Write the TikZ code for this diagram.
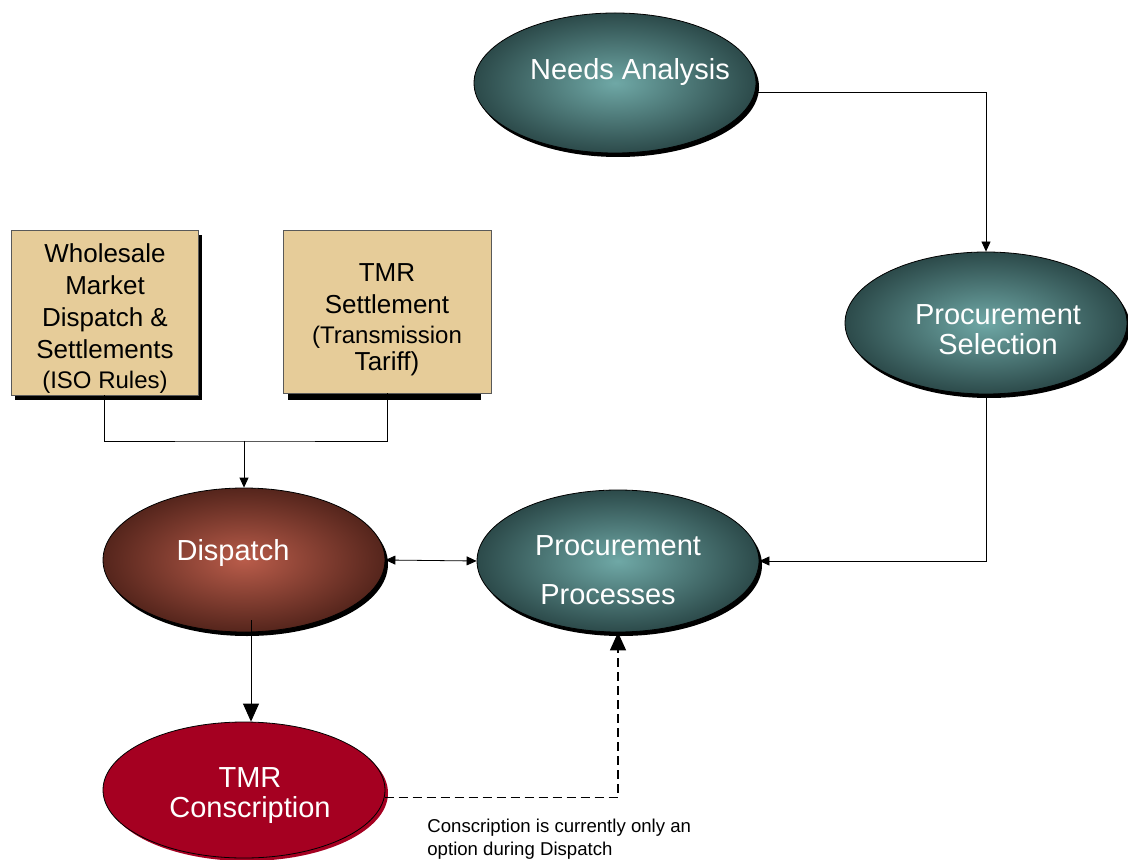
\documentclass[tikz,border=0pt]{standalone}
\usepackage{fontspec}
\setmainfont{Liberation Sans}
\usetikzlibrary{arrows.meta,shadows,shapes.geometric}

\definecolor{tealout}{HTML}{2C4A4A}
\definecolor{tealin}{HTML}{6FA8A6}
\definecolor{brownout}{HTML}{55251C}
\definecolor{brownin}{HTML}{B95C4A}
\definecolor{conscred}{HTML}{A50021}
\definecolor{boxtan}{HTML}{E6CC99}

\begin{document}
\begin{tikzpicture}[x=0.5pt,y=-0.5pt,
  ellbase/.style={ellipse,draw=black,minimum width=141pt,minimum height=70pt,inner sep=0pt},
  tealell/.style={ellbase,inner color=tealin,outer color=tealout,
    drop shadow={shadow xshift=1.5pt,shadow yshift=-2pt,fill=black,opacity=1}},
  brownell/.style={ellbase,minimum height=72pt,inner color=brownin,outer color=brownout,
    drop shadow={shadow xshift=1.5pt,shadow yshift=-2pt,fill=black,opacity=1}},
  redell/.style={ellbase,minimum height=68pt,fill=conscred,
    drop shadow={shadow xshift=1.5pt,shadow yshift=-1.5pt,fill=conscred,opacity=1}},
  elltext/.style={text=white,font=\fontsize{14.5}{15}\selectfont,align=center},
  boxnode/.style={draw=gray!70!black,fill=boxtan,inner sep=0pt},
  boxtext/.style={align=center,inner sep=0pt,font=\fontsize{13}{16}\selectfont},
  arr/.style={-{Triangle[length=5pt,width=4.5pt]}},
  dblarr/.style={{Triangle[length=5pt,width=4.5pt]}-{Triangle[length=5pt,width=4.5pt]}},
  bigarr/.style={-{Triangle[length=9pt,width=8pt]}},
]
\useasboundingbox (0,0) rectangle (1128,860);

% ellipses
\node[tealell] (needs) at (615,83) {};
\node[elltext] (needslbl) at (630,72) {Needs Analysis};
\node[tealell,minimum height=71pt] (procsel) at (986,323) {};
\node[elltext] (procsellbl) at (998,330) {Procurement\\Selection};
\node[brownell] (dispatch) at (244,560) {};
\node[elltext] (dispatchlbl) at (233,553) {Dispatch};
\node[tealell,minimum height=71pt] (procproc) at (618,561) {};
\node[elltext] (procproclbla) at (618,546) {Procurement};
\node[elltext] (procproclblb) at (608,595) {Processes};
\node[redell] (conscr) at (244,790) {};
\node[elltext] (conscrlbl) at (250,796) {TMR\\Conscription};

% boxes
\node[boxnode,minimum width=93.5pt,minimum height=82.5pt,
  drop shadow={shadow xshift=2pt,shadow yshift=-2.5pt,fill=black,opacity=1}]
  (whole) at (104.5,312.5) {};
\node[boxtext] (wholelbl) at (105,319) {Wholesale\\Market\\Dispatch \&\\Settlements\\[-1pt]
  \fontsize{12}{15}\selectfont(ISO Rules)};
\fill (288,393) rectangle (481,400);
\node[boxnode,minimum width=104pt,minimum height=81.5pt] (tmrset) at (387,311.5) {};
\node[boxtext] (tmrsetlbl) at (387,320) {TMR\\Settlement\\[-1pt]
  \fontsize{12}{15}\selectfont(Transmission\\[-2.5pt]Tariff)};

% connectors
\coordinate (join) at (244,441);
\draw (whole.south) |- (join) -| (tmrset.south);
\draw[arr] (join) -- (dispatch.north);
\draw[arr] (needs.-4) -| (procsel.north);
\draw[arr] (procsel.south) |- (procproc.east);
\draw[dblarr] (dispatch.east) -- (procproc.west);
\draw[bigarr] ([xshift=3.5pt,yshift=6pt]dispatch.south) -- ([xshift=3.5pt]conscr.north);
\draw[bigarr,line width=0.7pt,dash pattern=on 4.5pt off 2.5pt] (conscr.-3) -| (procproc.south);

\node[anchor=north west,align=left,inner sep=0pt,font=\fontsize{9.3}{11.5}\selectfont]
  (note) at (427,819) {Conscription is currently only an\\option during Dispatch};
\end{tikzpicture}
\end{document}
